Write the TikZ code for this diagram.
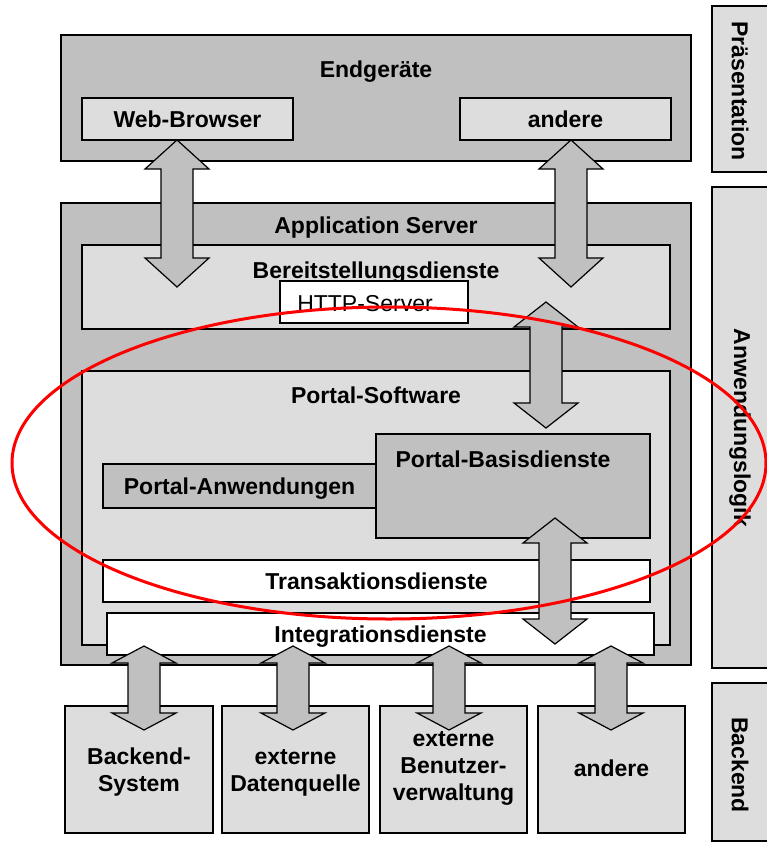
\documentclass[tikz,border=0pt]{standalone}
\usepackage{fontspec}
\setmainfont{Liberation Sans}
\usetikzlibrary{calc}
\definecolor{dkg}{HTML}{C0C0C0}
\definecolor{ltg}{HTML}{DDDDDD}
% double block arrow between two named points on one vertical line
\newcommand{\dblarr}[3]{%
  \draw[arrowbody] let \p1=(#1), \p2=(#2) in
    (\p1) -- (\x1+32pt,\y1-#3) -- (\x1+16pt,\y1-#3) -- (\x1+16pt,\y2+#3)
    -- (\x1+32pt,\y2+#3) -- (\p2) -- (\x1-32pt,\y2+#3) -- (\x1-16pt,\y2+#3)
    -- (\x1-16pt,\y1-#3) -- (\x1-32pt,\y1-#3) -- cycle;}
\begin{document}
\begin{tikzpicture}[x=1pt,y=-1pt,
  font=\fontsize{23}{27}\selectfont\bfseries,
  box/.style={draw=black, line width=1.2pt, inner sep=0pt, text depth=0pt},
  dark/.style={box, fill=dkg},
  light/.style={box, fill=ltg},
  plain/.style={box, fill=white},
  arrowbody/.style={draw=black, line width=1.2pt, fill=dkg, line join=miter},
  lbl/.style={inner sep=0pt, anchor=base}]
\useasboundingbox (0,0) rectangle (767,844);

% presentation tier
\node[dark, minimum width=630pt, minimum height=126pt] (endg) at (376,98) {};
\node[lbl] (endgt) at (376,77) {Endgeräte};
\node[light, minimum width=211pt, minimum height=42pt] (wb) at (187.5,119) {Web-Browser};
\node[light, minimum width=211pt, minimum height=42pt] (and1) at (565.5,119) {andere};

% application server
\node[dark, minimum width=630pt, minimum height=462pt] (app) at (376,434) {};
\node[lbl] (appt) at (376,233) {Application Server};
\node[light, minimum width=588pt, minimum height=84pt] (bereit) at (376,287) {};
\node[lbl] (bereitt) at (376,278) {Bereitstellungsdienste};
\node[plain, minimum width=188pt, minimum height=42pt] (http) at (374,302) {};
\node[lbl, font=\fontsize{23}{27}\selectfont] (httpt) at (365,311) {HTTP-Server};

\node[light, minimum width=588pt, minimum height=274pt] (portal) at (376,508) {};
\node[lbl] (portalt) at (376,403) {Portal-Software};
\node[dark, minimum width=273pt, minimum height=44pt] (panw) at (239.5,486) {Portal-Anwendungen};
\node[dark, minimum width=274pt, minimum height=104pt] (pbasis) at (513,486) {};
\node[lbl] (pbasist) at (503,467) {Portal-Basisdienste};
\node[plain, minimum width=547pt, minimum height=42pt] (trans) at (376.5,581) {Transaktionsdienste};
\node[plain, minimum width=547pt, minimum height=42pt] (integ) at (380.5,634) {Integrationsdienste};

% backend systems
\node[light, minimum width=148pt, minimum height=127pt] (be1) at (139,769.5) {};
\node[light, minimum width=147pt, minimum height=127pt] (be2) at (295.5,769.5) {};
\node[light, minimum width=147pt, minimum height=127pt] (be3) at (453.5,769.5) {};
\node[light, minimum width=147pt, minimum height=127pt] (be4) at (611.5,769.5) {};
\node[lbl] (be1a) at (139,764) {Backend-};
\node[lbl] (be1b) at (139,791) {System};
\node[lbl] (be2a) at (295.5,764) {externe};
\node[lbl] (be2b) at (295.5,791) {Datenquelle};
\node[lbl] (be3a) at (453.5,746) {externe};
\node[lbl] (be3b) at (453.5,773) {Benutzer-};
\node[lbl] (be3c) at (453.5,800) {verwaltung};
\node[lbl] (be4a) at (611.5,776) {andere};

% tier labels on the right
\node[light, minimum width=88pt, minimum height=166pt] (tier1) at (756,89) {};
\node[light, minimum width=88pt, minimum height=481pt] (tier2) at (756,427.5) {};
\node[light, minimum width=88pt, minimum height=158pt] (tier3) at (756,762) {};
\node[inner sep=0pt, rotate=-90] (tier1t) at (740,91) {Präsentation};
\node[inner sep=0pt, rotate=-90] (tier2t) at (740,428) {Anwendungslogik};
\node[inner sep=0pt, rotate=-90] (tier3t) at (740,765) {Backend};

% arrow end points
\coordinate (a1t) at (177,140);  \coordinate (a1b) at (177,287);
\coordinate (a2t) at (571,140);  \coordinate (a2b) at (571,287);
\coordinate (a3t) at (546,302);  \coordinate (a3b) at (546,428);
\coordinate (a4t) at (555,518);  \coordinate (a4b) at (555,644);
\coordinate (b1t) at (144,646);  \coordinate (b1b) at (144,730);
\coordinate (b2t) at (293,646);  \coordinate (b2b) at (293,730);
\coordinate (b3t) at (449,646);  \coordinate (b3b) at (449,730);
\coordinate (b4t) at (611,646);  \coordinate (b4b) at (611,730);

\dblarr{a1t}{a1b}{29pt}
\dblarr{a2t}{a2b}{29pt}
\dblarr{a3t}{a3b}{25pt}
\dblarr{a4t}{a4b}{25pt}
\dblarr{b1t}{b1b}{17pt}
\dblarr{b2t}{b2b}{17pt}
\dblarr{b3t}{b3b}{17pt}
\dblarr{b4t}{b4b}{17pt}

% highlight of the portal layer
\draw[red, line width=3pt] (389,463) ellipse [x radius=377pt, y radius=156pt];
\end{tikzpicture}
\end{document}
